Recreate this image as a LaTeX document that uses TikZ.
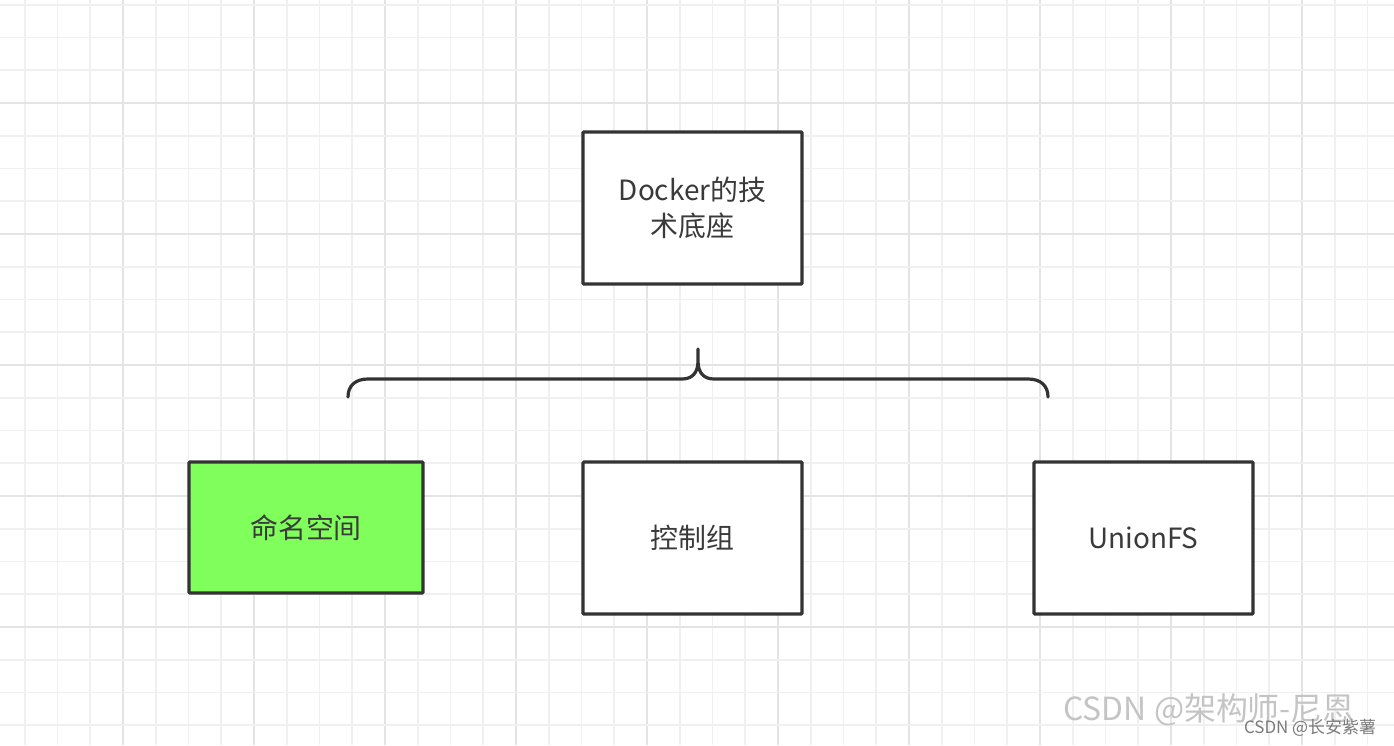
\documentclass[tikz,border=0pt]{standalone}
\usepackage{fontspec}
\setmainfont{Noto Sans CJK SC}
\definecolor{gridminor}{HTML}{F0F0F0}
\definecolor{gridmajor}{HTML}{E4E4E4}
\definecolor{edgegray}{HTML}{333333}
\definecolor{textgray}{HTML}{3A3A3A}
\definecolor{nsgreen}{HTML}{80FF5C}
\definecolor{wmlight}{HTML}{C4C4C4}
\definecolor{wmdark}{HTML}{7A7A7A}
\tikzset{
  boxnode/.style={draw=edgegray, line width=3.2bp, fill=white, rounded corners=1bp,
    text=textgray, align=center, inner sep=0pt,
    font=\fontsize{28}{36}\selectfont},
  bracepath/.style={draw=edgegray, line width=3.2bp, line cap=round, line join=round},
  gridminorline/.style={draw=gridminor, line width=1.6bp},
  gridmajorline/.style={draw=gridmajor, line width=1.8bp},
}
\begin{document}
\begin{tikzpicture}[x=1bp,y=-1bp]
\useasboundingbox (0,0) rectangle (1394,745);
\fill[white] (0,0) rectangle (1394,745);
% grid
\foreach \k in {0,...,41} {
  \pgfmathsetmacro{\xx}{24.75+32.75*\k}
  \pgfmathtruncatemacro{\mm}{mod(\k,4)}
  \ifnum\mm=3
    \draw[gridmajorline] (\xx,0) -- (\xx,745);
  \else
    \draw[gridminorline] (\xx,0) -- (\xx,745);
  \fi
}
\foreach \k in {0,...,22} {
  \pgfmathsetmacro{\yy}{4.75+32.75*\k}
  \pgfmathtruncatemacro{\mm}{mod(\k,4)}
  \ifnum\mm=3
    \draw[gridmajorline] (0,\yy) -- (1394,\yy);
  \else
    \draw[gridminorline] (0,\yy) -- (1394,\yy);
  \fi
}
% boxes
\node[boxnode, minimum width=219bp, minimum height=152bp] (docker) at (692.5,208) {Docker的技\\术底座};
\node[boxnode, fill=nsgreen, minimum width=234bp, minimum height=131bp] (ns) at (306,527.5) {命名空间};
\node[boxnode, minimum width=219bp, minimum height=152bp] (cg) at (692.5,538) {控制组};
\node[boxnode, minimum width=219bp, minimum height=152bp] (ufs) at (1143.5,538) {UnionFS};
% brace
\coordinate (bl) at (348,397);
\coordinate (br) at (1048,397);
\coordinate (tip) at (698,349);
\draw[bracepath] (bl) .. controls (348,386) and (355,379) .. (368,379)
  -- (682,379) .. controls (692,379) and (698,373) .. (698,361) -- (tip)
  -- (698,361) .. controls (698,373) and (704,379) .. (714,379)
  -- (1028,379) .. controls (1041,379) and (1048,386) .. (br);
% watermarks
\node[text=wmlight, font=\fontsize{32}{36}\selectfont, inner sep=0pt] (wm1) at (1209,710) {CSDN @架构师-尼恩};
\node[text=wmdark, font=\fontsize{17}{20}\selectfont, inner sep=0pt] (wm2) at (1310,728) {CSDN @长安紫薯};
\end{tikzpicture}
\end{document}
